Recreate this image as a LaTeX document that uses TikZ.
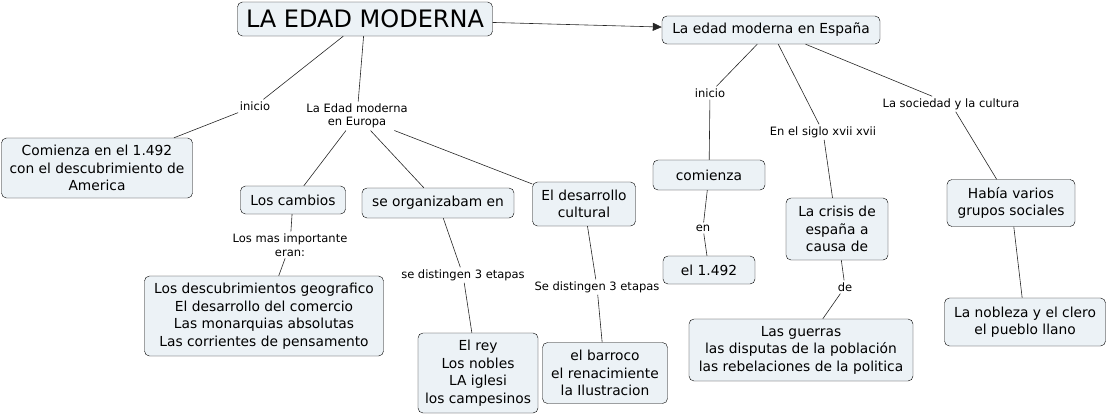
\documentclass[tikz,border=0pt]{standalone}
\usepackage{fontspec}
\setmainfont{DejaVu Sans}
\usepackage{xcolor}
\usetikzlibrary{arrows.meta}
\definecolor{boxfill}{RGB}{236,242,246}

\begin{document}
\begin{tikzpicture}[
    x=1pt, y=-1pt,
    box/.style={rectangle, draw, rounded corners=5pt, fill=boxfill, align=center, font=\fontsize{13.8}{17.6}\selectfont, inner sep=3pt},
    lbl/.style={align=center, font=\fontsize{11.5}{13.5}\selectfont, inner sep=2pt},
    link/.style={black!85, semithick},
    arrow/.style={-{Triangle[length=9pt, width=8pt]}, black!85, semithick}
]
\useasboundingbox (0,0) rectangle (1107,416);

% Main title
\node[box, font=\fontsize{24}{28}\selectfont, minimum width=255pt, minimum height=34pt] (title) at (365,19) {LA EDAD MODERNA};
\node[box, minimum width=218pt, minimum height=28pt] (espana) at (771,30) {La edad moderna en España};

% Europe side
\node[lbl] (inicio1) at (255,106) {inicio};
\node[lbl] (europa) at (357,116) {La Edad moderna\\en Europa};
\node[box, minimum width=191pt, minimum height=60pt] (comienzo) at (97,168) {Comienza en el 1.492\\con el descubrimiento de\\America};
\node[box, minimum width=105pt, minimum height=28pt] (cambios) at (293,200) {Los cambios};
\node[box, minimum width=152pt, minimum height=30pt] (organiza) at (438,203) {se organizabam en};
\node[box, minimum width=103pt, minimum height=44pt] (cultural) at (584,204) {El desarrollo\\cultural};
\node[lbl] (importante) at (290,245) {Los mas importante\\eran:};
\node[lbl] (etapas1) at (463,275) {se distingen 3 etapas};
\node[lbl] (etapas2) at (597,287) {Se distingen 3 etapas};
\node[box, minimum width=239pt, minimum height=80pt] (descubre) at (264,316) {Los descubrimientos geografico\\El desarrollo del comercio\\Las monarquias absolutas\\Las corrientes de pensamento};
\node[box, minimum width=120pt, minimum height=80pt] (rey) at (478,373) {El rey\\Los nobles\\LA iglesi\\los campesinos};
\node[box, minimum width=125pt, minimum height=61pt] (barroco) at (605,373) {el barroco\\el renacimiente\\la Ilustracion};

% Spain side
\node[lbl] (inicio2) at (710,93) {inicio};
\node[lbl] (siglo) at (823,132) {En el siglo xvii xvii};
\node[lbl] (sociedad) at (951,104) {La sociedad y la cultura};
\node[box, minimum width=112pt, minimum height=30pt] (comienza) at (709,175) {comienza};
\node[lbl] (en) at (703,228) {en};
\node[box, minimum width=92pt, minimum height=28pt] (anyo) at (709,270) {el 1.492};
\node[box, minimum width=102pt, minimum height=62pt] (crisis) at (837,229) {La crisis de\\españa a\\causa de};
\node[lbl] (de) at (845,287) {de};
\node[box, minimum width=224pt, minimum height=62pt] (guerras) at (801,350) {Las guerras\\las disputas de la población\\las rebelaciones de la politica};
\node[box, minimum width=128pt, minimum height=47pt] (grupos) at (1011,203) {Había varios\\grupos sociales};
\node[box, minimum width=161pt, minimum height=48pt] (nobleza) at (1025,322) {La nobleza y el clero\\el pueblo llano};

% Connectors
\draw[arrow] (title) -- (espana);
\draw[link] (title) -- (inicio1);
\draw[link] (inicio1) -- (comienzo);
\draw[link] (title) -- (europa);
\draw[link] (europa) -- (cambios);
\draw[link] (europa) -- (organiza);
\draw[link] (europa) -- (cultural);
\draw[link] (cambios) -- (importante);
\draw[link] (importante) -- (descubre);
\draw[link] (organiza) -- (etapas1);
\draw[link] (etapas1) -- (rey);
\draw[link] (cultural) -- (etapas2);
\draw[link] (etapas2) -- (barroco);
\draw[link] (espana) -- (inicio2);
\draw[link] (inicio2) -- (comienza);
\draw[link] (comienza) -- (en);
\draw[link] (en) -- (anyo);
\draw[link] (espana) -- (siglo);
\draw[link] (siglo) -- (crisis);
\draw[link] (crisis) -- (de);
\draw[link] (de) -- (guerras);
\draw[link] (espana) -- (sociedad);
\draw[link] (sociedad) -- (grupos);
\draw[link] (grupos) -- (nobleza);

\end{tikzpicture}
\end{document}
